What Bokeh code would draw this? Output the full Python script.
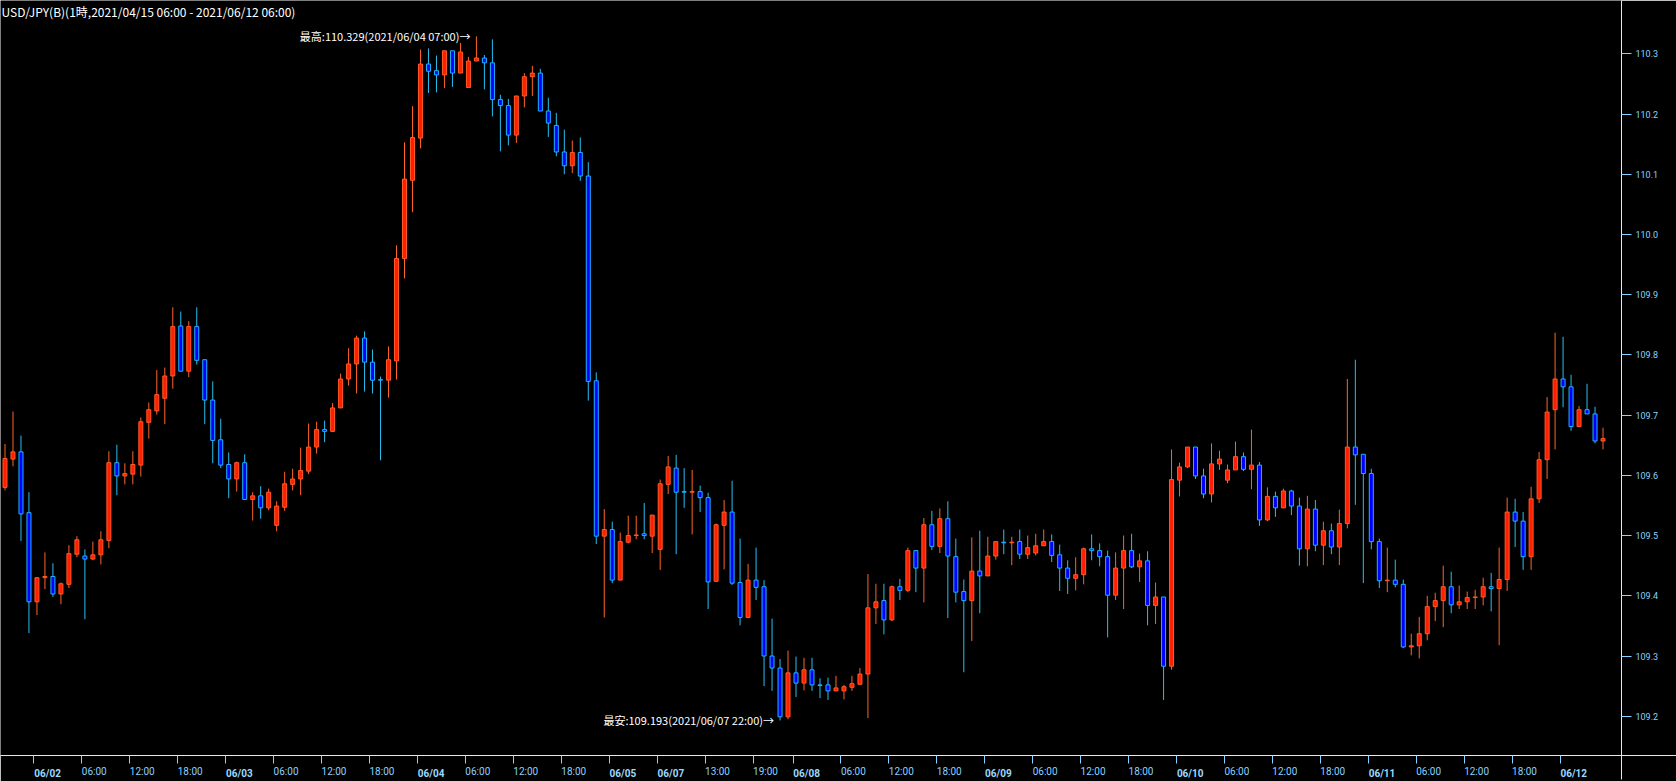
from bokeh.plotting import figure
from bokeh.models import Range1d, FixedTicker, Label, NumeralTickFormatter, ColumnDataSource, LinearAxis
from bokeh.embed import file_html
from bokeh.resources import INLINE

opens = [109.580, 109.627, 109.639, 109.538, 109.390, 109.430, 109.432, 109.403, 109.419, 109.469,
         109.466, 109.461, 109.468, 109.492, 109.621, 109.599, 109.602, 109.617, 109.688, 109.707,
         109.728, 109.765, 109.848, 109.773, 109.847, 109.792, 109.725, 109.659, 109.618, 109.594,
         109.621, 109.560, 109.566, 109.546, 109.517, 109.547, 109.585, 109.594, 109.607, 109.647,
         109.676, 109.673, 109.712, 109.760, 109.785, 109.828, 109.788, 109.759, 109.758, 109.790,
         109.960, 110.090, 110.160, 110.283, 110.272, 110.265, 110.305, 110.268, 110.244, 110.288,
         110.293, 110.285, 110.224, 110.214, 110.165, 110.230, 110.262, 110.268, 110.205, 110.181,
         110.137, 110.114, 110.136, 110.097, 109.757, 109.499, 109.510, 109.426, 109.489, 109.500,
         109.503, 109.499, 109.477, 109.585, 109.612, 109.573, 109.572, 109.573, 109.563, 109.424,
         109.517, 109.539, 109.422, 109.364, 109.426, 109.415, 109.300, 109.280, 109.199, 109.272,
         109.255, 109.277, 109.252, 109.252, 109.242, 109.242, 109.248, 109.253, 109.270, 109.380,
         109.392, 109.360, 109.415, 109.409, 109.475, 109.446, 109.518, 109.482, 109.528, 109.465,
         109.407, 109.392, 109.441, 109.433, 109.466, 109.489, 109.488, 109.490, 109.469, 109.471,
         109.483, 109.490, 109.468, 109.446, 109.429, 109.435, 109.478, 109.475, 109.465, 109.401,
         109.446, 109.475, 109.448, 109.458, 109.384, 109.398, 109.283, 109.592, 109.614, 109.647,
         109.599, 109.569, 109.619, 109.592, 109.609, 109.631, 109.610, 109.617, 109.526, 109.565,
         109.546, 109.574, 109.549, 109.478, 109.544, 109.484, 109.508, 109.481, 109.520, 109.647,
         109.635, 109.603, 109.490, 109.425, 109.426, 109.419, 109.315, 109.317, 109.337, 109.382,
         109.392, 109.415, 109.385, 109.390, 109.397, 109.398, 109.415, 109.412, 109.427, 109.539,
         109.524, 109.465, 109.561, 109.626, 109.709, 109.760, 109.747, 109.681, 109.709, 109.702,
         109.657]

highs = [109.652, 109.706, 109.666, 109.572, 109.431, 109.472, 109.454, 109.422, 109.484, 109.499,
         109.477, 109.490, 109.507, 109.640, 109.651, 109.620, 109.640, 109.696, 109.721, 109.775,
         109.779, 109.879, 109.872, 109.856, 109.879, 109.792, 109.756, 109.694, 109.638, 109.623,
         109.635, 109.572, 109.582, 109.578, 109.557, 109.606, 109.611, 109.646, 109.686, 109.689,
         109.691, 109.720, 109.769, 109.811, 109.832, 109.839, 109.809, 109.764, 109.814, 109.982,
         110.153, 110.213, 110.307, 110.309, 110.297, 110.305, 110.305, 110.318, 110.295, 110.329,
         110.298, 110.324, 110.232, 110.225, 110.230, 110.268, 110.280, 110.275, 110.227, 110.202,
         110.174, 110.156, 110.161, 110.120, 109.771, 109.544, 109.523, 109.505, 109.533, 109.533,
         109.554, 109.534, 109.593, 109.632, 109.634, 109.612, 109.609, 109.583, 109.571, 109.520,
         109.559, 109.591, 109.495, 109.453, 109.480, 109.426, 109.362, 109.295, 109.309, 109.299,
         109.297, 109.297, 109.263, 109.264, 109.267, 109.252, 109.267, 109.280, 109.436, 109.420,
         109.420, 109.417, 109.428, 109.480, 109.475, 109.529, 109.541, 109.545, 109.557, 109.495,
         109.427, 109.497, 109.508, 109.498, 109.490, 109.510, 109.498, 109.510, 109.500, 109.503,
         109.510, 109.502, 109.485, 109.459, 109.464, 109.480, 109.502, 109.487, 109.475, 109.472,
         109.500, 109.503, 109.470, 109.474, 109.422, 109.398, 109.643, 109.621, 109.647, 109.647,
         109.611, 109.653, 109.641, 109.618, 109.656, 109.638, 109.676, 109.622, 109.580, 109.573,
         109.578, 109.576, 109.563, 109.566, 109.559, 109.523, 109.520, 109.543, 109.760, 109.792,
         109.635, 109.611, 109.495, 109.480, 109.460, 109.427, 109.337, 109.365, 109.400, 109.405,
         109.450, 109.440, 109.417, 109.407, 109.410, 109.430, 109.438, 109.480, 109.563, 109.561,
         109.539, 109.581, 109.639, 109.730, 109.837, 109.830, 109.767, 109.715, 109.752, 109.714,
         109.679]

lows = [109.575, 109.615, 109.491, 109.338, 109.368, 109.411, 109.398, 109.386, 109.413, 109.464,
        109.361, 109.459, 109.452, 109.479, 109.567, 109.585, 109.585, 109.598, 109.661, 109.701,
        109.685, 109.744, 109.772, 109.763, 109.784, 109.685, 109.620, 109.612, 109.562, 109.573,
        109.560, 109.525, 109.528, 109.542, 109.507, 109.541, 109.575, 109.567, 109.602, 109.636,
        109.655, 109.672, 109.712, 109.749, 109.736, 109.739, 109.736, 109.625, 109.729, 109.759,
        109.927, 110.037, 110.143, 110.235, 110.236, 110.243, 110.245, 110.268, 110.244, 110.288,
        110.241, 110.196, 110.138, 110.148, 110.152, 110.211, 110.230, 110.205, 110.162, 110.130,
        110.100, 110.102, 110.089, 109.724, 109.486, 109.364, 109.421, 109.426, 109.487, 109.494,
        109.494, 109.471, 109.443, 109.569, 109.469, 109.546, 109.502, 109.539, 109.378, 109.424,
        109.444, 109.418, 109.351, 109.364, 109.393, 109.250, 109.242, 109.193, 109.195, 109.232,
        109.243, 109.242, 109.230, 109.227, 109.242, 109.228, 109.242, 109.253, 109.197, 109.353,
        109.336, 109.358, 109.393, 109.406, 109.406, 109.389, 109.476, 109.471, 109.363, 109.389,
        109.273, 109.325, 109.371, 109.433, 109.460, 109.469, 109.451, 109.461, 109.461, 109.467,
        109.483, 109.456, 109.408, 109.403, 109.409, 109.419, 109.459, 109.449, 109.331, 109.393,
        109.378, 109.446, 109.423, 109.351, 109.353, 109.227, 109.277, 109.565, 109.612, 109.594,
        109.562, 109.555, 109.609, 109.587, 109.609, 109.607, 109.577, 109.516, 109.524, 109.531,
        109.546, 109.534, 109.450, 109.449, 109.474, 109.451, 109.469, 109.451, 109.512, 109.551,
        109.421, 109.477, 109.413, 109.406, 109.414, 109.313, 109.301, 109.296, 109.326, 109.358,
        109.348, 109.371, 109.378, 109.378, 109.378, 109.384, 109.374, 109.318, 109.408, 109.481,
        109.443, 109.443, 109.554, 109.594, 109.643, 109.713, 109.674, 109.681, 109.702, 109.653,
        109.643]

closes = [109.628, 109.639, 109.536, 109.390, 109.430, 109.432, 109.403, 109.420, 109.470, 109.493,
          109.461, 109.468, 109.493, 109.621, 109.599, 109.603, 109.618, 109.689, 109.709, 109.734,
          109.765, 109.847, 109.773, 109.847, 109.791, 109.725, 109.658, 109.617, 109.594, 109.621,
          109.560, 109.566, 109.546, 109.572, 109.549, 109.586, 109.594, 109.608, 109.647, 109.676,
          109.673, 109.712, 109.760, 109.785, 109.828, 109.788, 109.758, 109.758, 109.792, 109.960,
          110.092, 110.161, 110.283, 110.271, 110.265, 110.305, 110.268, 110.303, 110.288, 110.293,
          110.285, 110.224, 110.214, 110.165, 110.230, 110.262, 110.268, 110.205, 110.185, 110.137,
          110.114, 110.136, 110.097, 109.756, 109.499, 109.510, 109.426, 109.490, 109.500, 109.501,
          109.500, 109.534, 109.586, 109.614, 109.572, 109.572, 109.573, 109.563, 109.423, 109.518,
          109.539, 109.421, 109.364, 109.426, 109.414, 109.300, 109.280, 109.199, 109.272, 109.255,
          109.277, 109.252, 109.251, 109.242, 109.247, 109.249, 109.254, 109.270, 109.380, 109.390,
          109.360, 109.415, 109.409, 109.475, 109.446, 109.518, 109.482, 109.528, 109.466, 109.406,
          109.392, 109.441, 109.433, 109.466, 109.490, 109.488, 109.489, 109.469, 109.480, 109.483,
          109.490, 109.467, 109.446, 109.429, 109.435, 109.478, 109.475, 109.465, 109.401, 109.446,
          109.475, 109.448, 109.458, 109.384, 109.398, 109.283, 109.593, 109.614, 109.647, 109.599,
          109.569, 109.619, 109.627, 109.609, 109.631, 109.610, 109.617, 109.526, 109.565, 109.546,
          109.574, 109.549, 109.478, 109.544, 109.484, 109.508, 109.481, 109.520, 109.647, 109.634,
          109.603, 109.490, 109.425, 109.426, 109.419, 109.315, 109.317, 109.337, 109.382, 109.392,
          109.415, 109.385, 109.390, 109.397, 109.398, 109.415, 109.412, 109.427, 109.539, 109.524,
          109.465, 109.561, 109.626, 109.705, 109.760, 109.747, 109.681, 109.709, 109.702, 109.657,
          109.661]

# x-axis ticks: candle index and label (dates are drawn bold)
tick_idx = [4, 10, 16, 22, 28, 34, 40, 46, 52, 58, 64, 70, 76, 82, 88, 94, 99,
            105, 111, 117, 123, 129, 135, 141, 147, 153, 159, 165, 171, 177, 183, 189, 195]
tick_labels = ["06/02", "06:00", "12:00", "18:00", "06/03", "06:00", "12:00", "18:00",
               "06/04", "06:00", "12:00", "18:00", "06/05", "06/07", "13:00", "19:00", "06/08",
               "06:00", "12:00", "18:00", "06/09", "06:00", "12:00", "18:00", "06/10",
               "06:00", "12:00", "18:00", "06/11", "06:00", "12:00", "18:00", "06/12"]
price_ticks = [109.2, 109.3, 109.4, 109.5, 109.6, 109.7, 109.8, 109.9, 110.0, 110.1, 110.2, 110.3]

title_text = "USD/JPY(B)(1時,2021/04/15 06:00 - 2021/06/12 06:00)"
high_time = "2021/06/04 07:00"
low_time = "2021/06/07 22:00"

RED_FILL = "#FF1E00"
RED_LINE = "#FF5A28"
RED_WICK = "#FF6428"
BLUE_FILL = "#0000FF"
BLUE_LINE = "#1EB4FF"
BLUE_WICK = "#28BEF0"
AXIS_TXT = "#8AD2FF"
FRAME_LINE = "#E8E8E8"

n = len(opens)
idx = list(range(n))
up = [c >= o for o, c in zip(opens, closes)]
src = ColumnDataSource(dict(
    x=idx, o=opens, h=highs, l=lows, c=closes,
    top=[max(o, c) for o, c in zip(opens, closes)],
    bot=[min(o, c) for o, c in zip(opens, closes)],
    fill=[RED_FILL if u else BLUE_FILL for u in up],
    line=[RED_LINE if u else BLUE_LINE for u in up],
    wick=[RED_WICK if u else BLUE_WICK for u in up],
))

W, H = 1676, 781
FRAME_W, FRAME_H = 1623, 755
PX_PER_X = 8.0
X0 = -0.5625
X1 = X0 + FRAME_W / PX_PER_X
PX_PER_Y = 602.2
Y1 = 110.3 + 53.3 / PX_PER_Y
Y0 = Y1 - FRAME_H / PX_PER_Y

p = figure(width=W, height=H, output_backend="svg", toolbar_location=None, title=None,
           x_range=Range1d(X0, X1), y_range=Range1d(Y0, Y1), y_axis_location="right",
           min_border_left=0, min_border_top=0, min_border_right=W - FRAME_W,
           min_border_bottom=H - FRAME_H,
           background_fill_color="black", border_fill_color="black", outline_line_color=None)
p.grid.visible = False

p.segment(x0="x", y0="l", x1="x", y1="h", line_color="wick", line_width=1, source=src)
p.vbar(x="x", width=0.5, top="top", bottom="bot", fill_color="fill", line_color="line",
       line_width=1, source=src)

# right price axis
ya = p.yaxis[0]
ya.ticker = FixedTicker(ticks=price_ticks, minor_ticks=[])
ya.formatter = NumeralTickFormatter(format="0.0")
ya.axis_line_color = FRAME_LINE
ya.major_tick_line_color = AXIS_TXT
ya.major_tick_out = 10
ya.major_tick_in = 0
ya.minor_tick_out = 0
ya.minor_tick_in = 0
ya.major_label_text_color = AXIS_TXT
ya.major_label_text_font = "Roboto"
ya.major_label_text_font_size = "9px"
ya.major_label_standoff = 4

# thin outer axis that only carries the bottom rule across the price panel
yc = LinearAxis(ticker=FixedTicker(ticks=[], minor_ticks=[Y0 + 0.0002]),
                axis_line_color=None, major_tick_line_color=None,
                major_tick_out=0, major_tick_in=0,
                minor_tick_line_color=FRAME_LINE, minor_tick_in=70, minor_tick_out=15,
                major_label_standoff=0)
p.add_layout(yc, "right")

# bottom time axis: labels padded with no-break spaces so they start at the tick
NBSP = "\u00a0"
tick_x = [t - 0.375 for t in tick_idx]
xa = p.xaxis[0]
xa.ticker = FixedTicker(ticks=tick_x, minor_ticks=[])
xa.major_label_overrides = {tx: ("" if "/" in lab else NBSP * 10 + lab)
                            for tx, lab in zip(tick_x, tick_labels)}
xa.axis_line_color = FRAME_LINE
xa.major_tick_line_color = AXIS_TXT
xa.major_tick_out = 8
xa.major_tick_in = 0
xa.minor_tick_out = 0
xa.minor_tick_in = 0
xa.major_label_text_color = AXIS_TXT
xa.major_label_text_font = "Roboto"
xa.major_label_text_font_size = "10px"
xa.major_label_standoff = 2

# bold date labels on a second axis pulled up onto the same row;
# its minor tick continues the price-axis rule down through the time panel
date_x = [tx for tx, lab in zip(tick_x, tick_labels) if "/" in lab]
xb = LinearAxis(ticker=FixedTicker(ticks=date_x, minor_ticks=[X1 - 0.001]),
                major_label_overrides={tx: NBSP * 11 + lab for tx, lab in zip(tick_x, tick_labels) if "/" in lab},
                axis_line_color=None, major_tick_line_color=None,
                major_tick_out=0, major_tick_in=0,
                minor_tick_line_color=FRAME_LINE, minor_tick_out=0, minor_tick_in=40,
                major_label_text_color="#9ADAFF", major_label_text_font="Roboto",
                major_label_text_font_size="10px", major_label_text_font_style="bold",
                major_label_standoff=-12)
p.add_layout(xb, "below")

# title
p.add_layout(Label(x=X0 + 1 / PX_PER_X, y=Y1 - 2 / PX_PER_Y, text=title_text, text_align="left",
                   text_baseline="top", text_color="white", text_font="Noto Sans CJK JP",
                   text_font_size="12px"))

# high / low annotations
hi_i = max(idx, key=lambda i: highs[i])
lo_i = min(idx, key=lambda i: lows[i])
p.add_layout(Label(x=hi_i - 0.75, y=highs[hi_i], text=f"最高:{highs[hi_i]:.3f}({high_time})→",
                   text_align="right", text_baseline="middle", text_color="white",
                   text_font="Noto Sans CJK JP", text_font_size="11px"))
p.add_layout(Label(x=lo_i - 0.75, y=lows[lo_i], text=f"最安:{lows[lo_i]:.3f}({low_time})→",
                   text_align="right", text_baseline="middle", text_color="white",
                   text_font="Noto Sans CJK JP", text_font_size="11px"))

open("out.html", "w").write(file_html(p, INLINE))
